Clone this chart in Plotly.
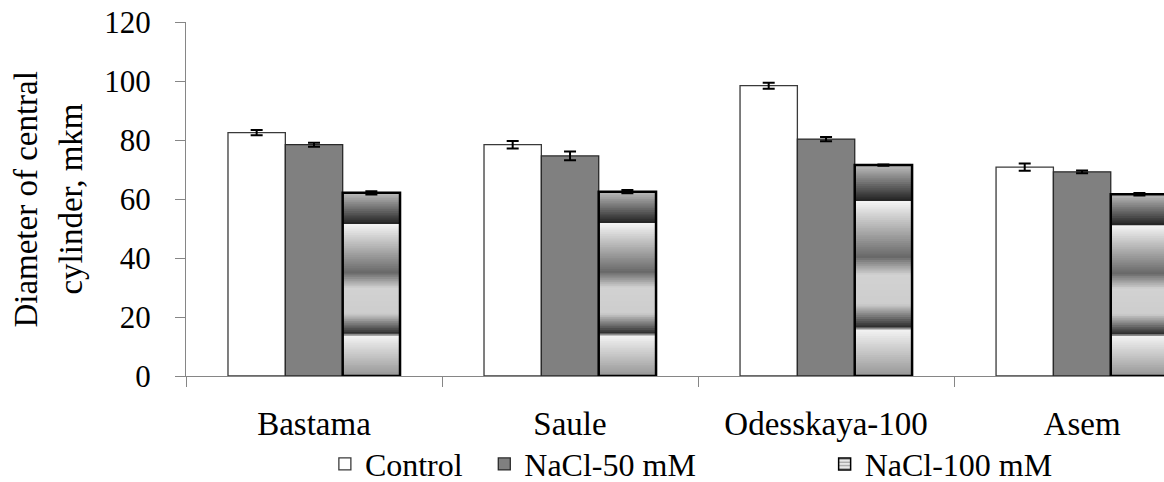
import plotly.graph_objects as go

# ---- data ----
categories = ["Bastama", "Saule", "Odesskaya-100", "Asem"]
control = [82.5, 78.4, 98.4, 70.8]
control_err = [0.9, 1.3, 1.0, 1.2]
nacl50 = [78.4, 74.6, 80.3, 69.2]
nacl50_err = [0.7, 1.5, 0.7, 0.45]
nacl100 = [62.1, 62.5, 71.5, 61.6]
nacl100_err = [0.55, 0.55, 0.2, 0.45]
series_names = ["Control", "NaCl-50 mM", "NaCl-100 mM"]
y_ticks = [0, 20, 40, 60, 80, 100, 120]
y_title_lines = ["Diameter of central", "cylinder, mkm"]

FONT = "Liberation Serif"

# ---- style: metallic band gradient for NaCl-100 bars (fraction of height from bottom -> gray level) ----
GRAD_STOPS = [(0.0, 150), (0.224, 245), (0.226, 35), (0.34, 205), (0.48, 210),
              (0.565, 105), (0.828, 245), (0.832, 35), (1.0, 190)]
N_SEG = 100


def gray_at(h):
    for (h0, g0), (h1, g1) in zip(GRAD_STOPS[:-1], GRAD_STOPS[1:]):
        if h0 <= h <= h1:
            t = 0 if h1 == h0 else (h - h0) / (h1 - h0)
            g = int(round(g0 + (g1 - g0) * t))
            return f"rgb({g},{g},{g})"
    g = GRAD_STOPS[-1][1]
    return f"rgb({g},{g},{g})"


err_style = dict(type="data", thickness=2, width=6, color="black")

fig = go.Figure()

fig.add_trace(go.Bar(
    x=categories, y=control, name=series_names[0], offsetgroup="0",
    marker=dict(color="white", line=dict(color="#3a3a3a", width=1.3)),
    error_y=dict(array=control_err, **err_style),
    legend="legend", hoverinfo="skip",
))
fig.add_trace(go.Bar(
    x=categories, y=nacl50, name=series_names[1], offsetgroup="1",
    marker=dict(color="#808080", line=dict(color="#2a2a2a", width=1.3)),
    error_y=dict(array=nacl50_err, **err_style),
    legend="legend2", hoverinfo="skip",
))

# gradient layers: tallest first, shorter ones on top
for k in range(N_SEG - 1, -1, -1):
    frac = (k + 1) / N_SEG
    fig.add_trace(go.Bar(
        x=categories, y=[v * frac for v in nacl100], offsetgroup="2",
        marker=dict(color=gray_at((k + 0.5) / N_SEG), line=dict(width=0)),
        showlegend=False, hoverinfo="skip",
    ))

# outline + error bars for NaCl-100
fig.add_trace(go.Bar(
    x=categories, y=nacl100, offsetgroup="2",
    marker=dict(color="rgba(0,0,0,0)", line=dict(color="black", width=2.5)),
    error_y=dict(array=nacl100_err, **err_style),
    showlegend=False, hoverinfo="skip",
))
# legend entry for NaCl-100
fig.add_trace(go.Bar(
    x=categories, y=[None] * len(categories), name=series_names[2], offsetgroup="2",
    marker=dict(color="#d8d8d8", line=dict(color="black", width=1.5),
                pattern=dict(shape="-", fgcolor="#555555", bgcolor="#e8e8e8", size=4, solidity=0.4)),
    legend="legend3", hoverinfo="skip",
))

legend_common = dict(orientation="h", yanchor="middle", y=-0.249, xanchor="left",
                     bgcolor="rgba(0,0,0,0)", itemclick=False, itemdoubleclick=False,
                     font=dict(family=FONT, size=32, color="black"))

fig.update_layout(
    width=1164, height=482,
    margin=dict(l=186, r=0, t=22, b=106, autoexpand=False),
    paper_bgcolor="white", plot_bgcolor="white",
    barmode="group", bargap=0.328, bargroupgap=0,
    font=dict(family=FONT, size=33, color="black"),
    showlegend=True,
    legend=dict(x=0.142, **legend_common),
    legend2=dict(x=0.305, **legend_common),
    legend3=dict(x=0.653, **legend_common),
    xaxis=dict(
        type="category", range=[-0.5, 3.32], tickson="boundaries",
        ticks="outside", ticklen=10, tickcolor="#868686", tickwidth=1,
        showline=True, linecolor="#868686", linewidth=1,
        showgrid=False, zeroline=False, automargin=False, ticklabelstandoff=18,
        tickfont=dict(family=FONT, size=33, color="black"),
    ),
    yaxis=dict(
        range=[0, 120], tickvals=y_ticks, ticktext=[str(t) for t in y_ticks],
        ticks="outside", ticklen=10, tickcolor="#868686", tickwidth=1,
        showline=True, linecolor="#868686", linewidth=1,
        showgrid=False, zeroline=False, ticklabelstandoff=18, automargin=False,
        tickfont=dict(family=FONT, size=31, color="black"),
    ),
    annotations=[
        dict(text=y_title_lines[0], textangle=-90, xref="paper", yref="paper",
             x=-0.164, y=0.5, xanchor="center", yanchor="middle", showarrow=False,
             font=dict(family=FONT, size=33, color="black")),
        dict(text=y_title_lines[1], textangle=-90, xref="paper", yref="paper",
             x=-0.118, y=0.5, xanchor="center", yanchor="middle", showarrow=False,
             font=dict(family=FONT, size=33, color="black")),
    ],
)

# redraw once after the first render so every text picks up the serif font
fig.write_html("out.html", post_script="Plotly.redraw(document.getElementById('{plot_id}'));")
